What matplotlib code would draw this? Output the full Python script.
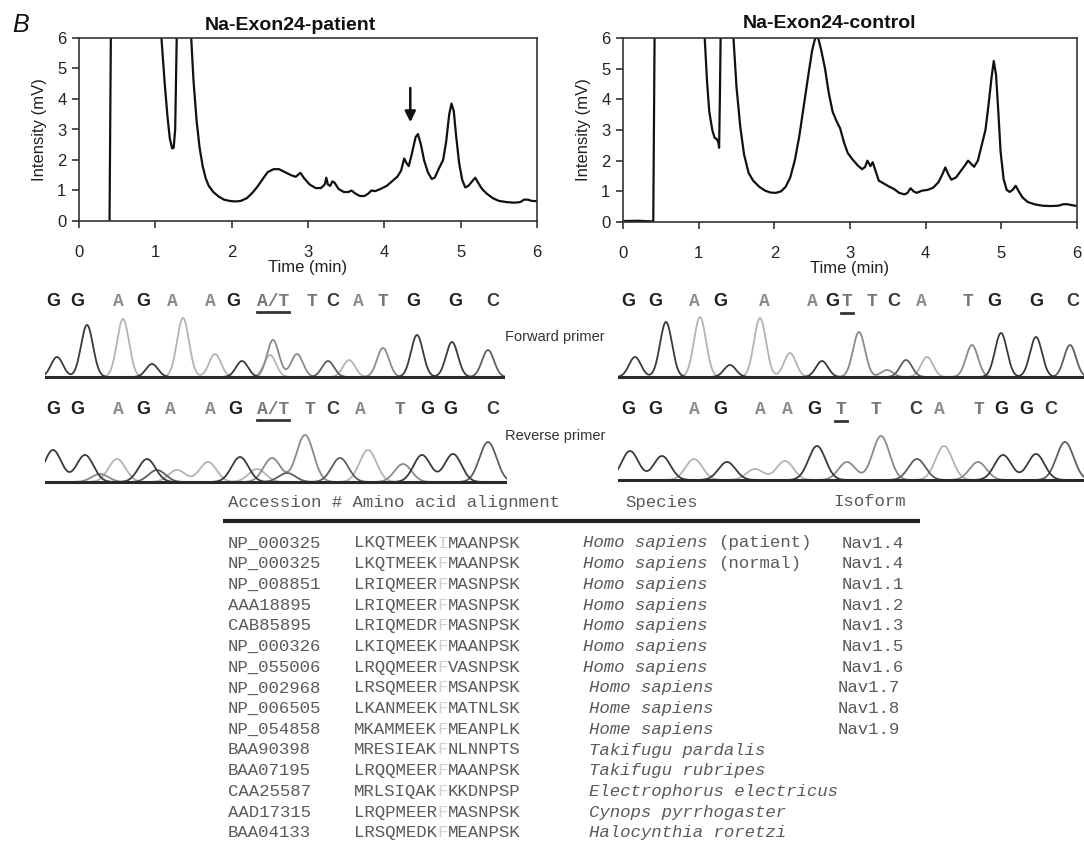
import numpy as np
import matplotlib
matplotlib.use("Agg")
import matplotlib.pyplot as plt

plt.rcParams['font.family'] = ['Liberation Sans', 'DejaVu Sans']

W, H = 1084, 842

# --- HPLC chromatograms (time in min, intensity in mV; 7 = off scale) ---
patient_t = [0.40, 0.42, 1.06, 1.08, 1.12, 1.16, 1.19, 1.22, 1.24, 1.26, 1.27, 1.28, 1.29,
             1.46, 1.47, 1.50, 1.54, 1.58, 1.62, 1.66, 1.70, 1.76, 1.83, 1.90, 1.97, 2.05,
             2.12, 2.20, 2.27, 2.33, 2.40, 2.47, 2.55, 2.62, 2.70, 2.78, 2.84, 2.90, 2.95,
             3.02, 3.10, 3.17, 3.22, 3.24, 3.26, 3.29, 3.32, 3.35, 3.40, 3.47, 3.53, 3.57,
             3.62, 3.68, 3.74, 3.79, 3.83, 3.88, 3.95, 4.03, 4.10, 4.17, 4.22, 4.26, 4.29,
             4.32, 4.36, 4.41, 4.44, 4.48, 4.52, 4.57, 4.62, 4.66, 4.72, 4.77, 4.81, 4.85,
             4.88, 4.91, 4.94, 4.98, 5.02, 5.06, 5.10, 5.15, 5.19, 5.23, 5.28, 5.34, 5.42,
             5.50, 5.60, 5.70, 5.78, 5.83, 5.88, 5.93, 6.00]
patient_y = [0.0, 7.0, 7.0, 6.0, 4.6, 3.4, 2.7, 2.38, 2.4, 3.0, 4.5, 6.0, 7.0,
             7.0, 6.0, 4.6, 3.3, 2.4, 1.8, 1.4, 1.15, 0.95, 0.8, 0.7, 0.66, 0.64,
             0.66, 0.75, 0.92, 1.1, 1.35, 1.6, 1.7, 1.7, 1.6, 1.5, 1.45, 1.58, 1.4,
             1.2, 1.08, 1.08, 1.2, 1.42, 1.2, 1.15, 1.3, 1.25, 1.05, 0.95, 0.95, 1.0,
             0.9, 0.82, 0.82, 0.9, 1.0, 0.98, 1.05, 1.15, 1.3, 1.45, 1.65, 2.05, 1.9,
             1.8, 2.2, 2.75, 2.85, 2.5, 2.0, 1.6, 1.38, 1.42, 1.75, 2.0, 2.6, 3.5,
             3.85, 3.6, 2.8, 1.9, 1.35, 1.1, 1.15, 1.3, 1.42, 1.25, 1.05, 0.9, 0.75,
             0.66, 0.62, 0.6, 0.62, 0.7, 0.7, 0.66, 0.65]

control_t = [0.00, 0.20, 0.38, 0.40, 0.42, 1.06, 1.08, 1.11, 1.14, 1.18, 1.21, 1.24, 1.26,
             1.27, 1.28, 1.29, 1.30, 1.45, 1.46, 1.50, 1.55, 1.60, 1.66, 1.72, 1.80, 1.88,
             1.95, 2.02, 2.09, 2.15, 2.21, 2.27, 2.33, 2.39, 2.45, 2.50, 2.54, 2.58, 2.62,
             2.67, 2.72, 2.77, 2.82, 2.87, 2.92, 2.97, 3.03, 3.10, 3.16, 3.20, 3.23, 3.27,
             3.30, 3.34, 3.38, 3.45, 3.52, 3.58, 3.65, 3.72, 3.76, 3.80, 3.84, 3.88, 3.95,
             4.03, 4.10, 4.17, 4.22, 4.26, 4.30, 4.34, 4.40, 4.46, 4.52, 4.56, 4.60, 4.64,
             4.69, 4.74, 4.79, 4.83, 4.87, 4.90, 4.93, 4.96, 4.99, 5.03, 5.07, 5.11, 5.15,
             5.19, 5.23, 5.28, 5.35, 5.45, 5.55, 5.65, 5.75, 5.82, 5.87, 5.93, 6.00]
control_y = [0.03, 0.04, 0.02, 0.0, 7.0, 7.0, 6.0, 4.6, 3.6, 3.0, 2.75, 2.7, 2.6,
             2.42, 4.0, 6.0, 7.0, 7.0, 6.0, 4.4, 3.1, 2.2, 1.6, 1.35, 1.15, 1.02,
             0.96, 0.95, 1.0, 1.15, 1.45, 2.0, 2.8, 3.8, 4.8, 5.6, 6.0, 6.0, 5.6,
             5.0, 4.2, 3.6, 3.3, 3.05, 2.6, 2.25, 2.05, 1.85, 1.72, 1.8, 2.0, 1.82,
             1.95, 1.65, 1.35, 1.25, 1.15, 1.08, 0.95, 0.9, 0.95, 1.1, 1.0, 0.95, 1.02,
             1.05, 1.12, 1.3, 1.55, 1.78, 1.55, 1.38, 1.45, 1.65, 1.85, 2.0, 1.9, 1.8,
             2.0, 2.5, 3.0, 3.8, 4.7, 5.25, 4.8, 3.6, 2.3, 1.4, 1.05, 0.98, 1.05,
             1.18, 1.0, 0.8, 0.65, 0.57, 0.53, 0.52, 0.53, 0.58, 0.58, 0.55, 0.52]

arrow_t = 4.34
arrow_from, arrow_to = 4.45, 3.15

# --- sequencing traces: (scan position, peak height, base) ---
lf_pos = [57, 87, 123, 152, 183, 215, 242, 273, 270, 297, 328, 349, 383, 417, 452, 488]
lf_h = [20, 52, 58, 13, 59, 23, 16, 37, 22, 23, 16, 17, 29, 42, 35, 27]
lf_base = ['G', 'G', 'A', 'G', 'A', 'A', 'G', 'T', 'A', 'T', 'C', 'A', 'T', 'G', 'G', 'C']

lr_pos = [53, 85, 100, 117, 147, 157, 177, 208, 240, 257, 272, 287, 305, 340, 368, 403, 422, 453, 488]
lr_h = [32, 27, 8, 23, 23, 12, 12, 20, 25, 13, 24, 9, 47, 24, 32, 18, 27, 28, 40]
lr_base = ['G', 'G', 'T', 'A', 'G', 'C', 'A', 'A', 'G', 'A', 'T', 'C', 'T', 'C', 'A', 'T', 'G', 'G', 'C']

rf_pos = [635, 666, 700, 730, 760, 790, 822, 859, 887, 906, 927, 972, 1001, 1036, 1070]
rf_h = [20, 55, 60, 12, 59, 24, 16, 45, 7, 17, 20, 32, 44, 40, 32]
rf_base = ['G', 'G', 'A', 'G', 'A', 'A', 'G', 'T', 'T', 'C', 'A', 'T', 'G', 'G', 'C']

rr_pos = [630, 662, 694, 727, 755, 785, 817, 847, 881, 917, 944, 978, 1003, 1036, 1065]
rr_h = [29, 24, 21, 18, 11, 19, 34, 18, 44, 21, 34, 18, 25, 26, 38]
rr_base = ['G', 'G', 'A', 'G', 'A', 'A', 'G', 'T', 'T', 'C', 'A', 'T', 'G', 'G', 'C']

# base calls above each trace
lf_calls = ['G', 'G', 'A', 'G', 'A', 'A', 'G', 'A/T', 'T', 'C', 'A', 'T', 'G', 'G', 'C']
lr_calls = ['G', 'G', 'A', 'G', 'A', 'A', 'G', 'A/T', 'T', 'C', 'A', 'T', 'G', 'G', 'C']
rf_calls = ['G', 'G', 'A', 'G', 'A', 'A', 'G', 'T_', 'T', 'C', 'A', 'T', 'G', 'G', 'C']
rr_calls = ['G', 'G', 'A', 'G', 'A', 'A', 'G', 'T_', 'T', 'C', 'A', 'T', 'G', 'G', 'C']
lf_call_x = [53, 77, 118, 143, 172, 210, 233, 273, 312, 333, 358, 383, 413, 455, 493]
lr_call_x = [53, 77, 118, 143, 170, 210, 235, 273, 310, 333, 360, 400, 427, 450, 493]
rf_call_x = [628, 655, 694, 720, 764, 812, 832, 847, 872, 894, 921, 968, 994, 1036, 1073]
rr_call_x = [628, 655, 694, 720, 760, 787, 814, 841, 876, 916, 939, 979, 1001, 1026, 1051]

# --- alignment table ---
accession = ['NP_000325', 'NP_000325', 'NP_008851', 'AAA18895', 'CAB85895', 'NP_000326',
             'NP_055006', 'NP_002968', 'NP_006505', 'NP_054858', 'BAA90398', 'BAA07195',
             'CAA25587', 'AAD17315', 'BAA04133']
alignment = ['LKQTMEEKIMAANPSK', 'LKQTMEEKFMAANPSK', 'LRIQMEERFMASNPSK', 'LRIQMEERFMASNPSK',
             'LRIQMEDRFMASNPSK', 'LKIQMEEKFMAANPSK', 'LRQQMEERFVASNPSK', 'LRSQMEERFMSANPSK',
             'LKANMEEKFMATNLSK', 'MKAMMEEKFMEANPLK', 'MRESIEAKFNLNNPTS', 'LRQQMEERFMAANPSK',
             'MRLSIQAKFKKDNPSP', 'LRQPMEERFMASNPSK', 'LRSQMEDKFMEANPSK']
species = ['Homo sapiens', 'Homo sapiens', 'Homo sapiens', 'Homo sapiens', 'Homo sapiens',
           'Homo sapiens', 'Homo sapiens', 'Homo sapiens', 'Home sapiens', 'Home sapiens',
           'Takifugu pardalis', 'Takifugu rubripes', 'Electrophorus electricus',
           'Cynops pyrrhogaster', 'Halocynthia roretzi']
note = ['(patient)', '(normal)'] + [''] * 13
isoform = ['Nav1.4', 'Nav1.4', 'Nav1.1', 'Nav1.2', 'Nav1.3', 'Nav1.5', 'Nav1.6',
           'Nav1.7', 'Nav1.8', 'Nav1.9', '', '', '', '', '']
var_site = 8

# ---------------------------------------------------------------------------
fig = plt.figure(figsize=(W / 100, H / 100), dpi=100)

canvas = fig.add_axes([0, 0, 1, 1])
canvas.set_xlim(0, W)
canvas.set_ylim(H, 0)
canvas.axis('off')


def px_axes(l, t, r, b):
    return fig.add_axes([l / W, 1 - b / H, (r - l) / W, (b - t) / H])


def chromatogram(ax, t, y, ylab_pad):
    ax.plot(t, y, color='#111111', lw=1.6, solid_joinstyle='round')
    ax.set_xlim(0, 6)
    ax.set_ylim(0, 6)
    ax.set_xticks(range(7))
    ax.set_yticks(range(7))
    for s in ax.spines.values():
        s.set_linewidth(1.2)
        s.set_color('#333333')
    ax.tick_params(axis='both', direction='out', length=5, width=1.2, color='#333333',
                   labelsize=12, labelcolor='#222222')
    ax.tick_params(axis='x', pad=12)
    ax.tick_params(axis='y', pad=4)
    ax.set_xlabel('Time (min)', fontsize=12, color='#222222', labelpad=0)
    ax.set_ylabel('Intensity (mV)', fontsize=12, color='#222222', labelpad=ylab_pad)


ax1 = px_axes(79, 38, 537, 221)
chromatogram(ax1, patient_t, patient_y, 7)
ax1.annotate('', xy=(arrow_t, arrow_to), xytext=(arrow_t, arrow_from),
             arrowprops=dict(arrowstyle='-|>', lw=1.8, color='#111111', mutation_scale=16))

ax2 = px_axes(623, 38, 1077, 222)
chromatogram(ax2, control_t, control_y, 7)

canvas.text(290, 25, 'Na-Exon24-patient', fontsize=14, fontweight='bold', ha='center',
            va='center', color='#111111')
canvas.text(829, 24, 'Na-Exon24-control', fontsize=14, fontweight='bold', ha='center',
            va='center', color='#111111')
canvas.text(21, 25, 'B', fontsize=18, fontstyle='italic', ha='center', va='center',
            color='#111111')

# --- traces ---
trace_colors = {'G': '#3a3a3a', 'A': '#b4b4b4', 'T': '#8a8a8a', 'C': '#5e5e5e'}
call_colors = {'G': '#1e1e1e', 'A': '#8c8c8c', 'T': '#767676', 'C': '#3a3a3a'}


def trace(rect, pos, h, base, sigma):
    l, t, r, b = rect
    ax = px_axes(l, t, r, b)
    ax.set_xlim(l, r)
    ax.set_ylim(-3, (b - t) - 3)
    ax.axis('off')
    x = np.linspace(l, r, 1200)
    pos = np.asarray(pos, float)
    h = np.asarray(h, float)
    for key in ['A', 'T', 'C', 'G']:
        sel = np.array([bb == key for bb in base])
        if not sel.any():
            continue
        yk = (h[sel][:, None] * np.exp(-0.5 * ((x[None, :] - pos[sel][:, None]) / sigma) ** 2)).sum(0)
        ax.plot(x, yk, color=trace_colors[key], lw=1.3)
    ax.axhline(0, color='#2a2a2a', lw=2.2)
    return ax


trace((45, 310, 505, 380), lf_pos, lf_h, lf_base, 6.0)
trace((45, 415, 507, 485), lr_pos, lr_h, lr_base, 8.5)
trace((618, 310, 1084, 380), rf_pos, rf_h, rf_base, 6.0)
trace((618, 413, 1084, 483), rr_pos, rr_h, rr_base, 8.5)


def calls(xs, letters, y):
    for x, c in zip(xs, letters):
        if c == 'A/T':
            canvas.text(x, y, 'A/T', fontsize=13, family='Liberation Mono', fontweight='bold',
                        color='#7a7a7a', ha='center', va='center')
            canvas.plot([x - 16, x + 16], [y + 10, y + 10], color='#333333', lw=2)
        elif c == 'T_':
            canvas.text(x, y, 'T', fontsize=13, family='Liberation Mono', fontweight='bold',
                        color=call_colors['T'], ha='center', va='center')
            canvas.plot([x - 6, x + 6], [y + 11, y + 11], color='#333333', lw=2)
        elif c in 'GC':
            canvas.text(x, y, c, fontsize=13, fontweight='bold', color=call_colors[c],
                        ha='center', va='center')
        else:
            canvas.text(x, y, c, fontsize=13, family='Liberation Mono', fontweight='bold',
                        color=call_colors[c], ha='center', va='center')


calls(lf_call_x, lf_calls, 302)
calls(lr_call_x, lr_calls, 410)
calls(rf_call_x, rf_calls, 302)
calls(rr_call_x, rr_calls, 410)

canvas.text(505, 337, 'Forward primer', fontsize=10.5, color='#333333', va='center')
canvas.text(505, 436, 'Reverse primer', fontsize=10.5, color='#333333', va='center')

# --- table ---
fs = 12.5
cw = 0.6 * fs * 100 / 72
tcol = '#5a5a5a'
mono = 'Liberation Mono'
canvas.text(228, 502, 'Accession # Amino acid alignment', fontsize=fs, family=mono,
            color=tcol, va='center')
canvas.text(625, 502, 'Species', fontsize=fs, family=mono, color=tcol, va='center')
canvas.text(833, 502, 'Isoform', fontsize=fs, family=mono, color=tcol, va='center')
canvas.plot([223, 920], [521, 521], color='#222222', lw=3, solid_capstyle='butt')

species_x = [583] * 7 + [589] * 8
iso_x = [842] * 7 + [838] * 3 + [842] * 5
for i in range(len(accession)):
    y = 543 + i * 20.7
    canvas.text(228, y, accession[i], fontsize=fs, family=mono, color=tcol, va='center')
    seq = alignment[i]
    x0 = 354
    canvas.text(x0, y, seq[:var_site], fontsize=fs, family=mono, color=tcol, va='center')
    canvas.text(x0 + var_site * cw, y, seq[var_site], fontsize=fs, family=mono,
                color='#cfcfcf', va='center')
    canvas.text(x0 + (var_site + 1) * cw, y, seq[var_site + 1:], fontsize=fs, family=mono,
                color=tcol, va='center')
    canvas.text(species_x[i], y, species[i], fontsize=fs, family=mono, fontstyle='italic',
                color=tcol, va='center')
    if note[i]:
        canvas.text(species_x[i] + (len(species[i]) + 1) * cw, y, note[i], fontsize=fs,
                    family=mono, color=tcol, va='center')
    if isoform[i]:
        canvas.text(iso_x[i], y, isoform[i], fontsize=fs, family=mono, color=tcol,
                    va='center')

fig.savefig('out.png', dpi=100)
